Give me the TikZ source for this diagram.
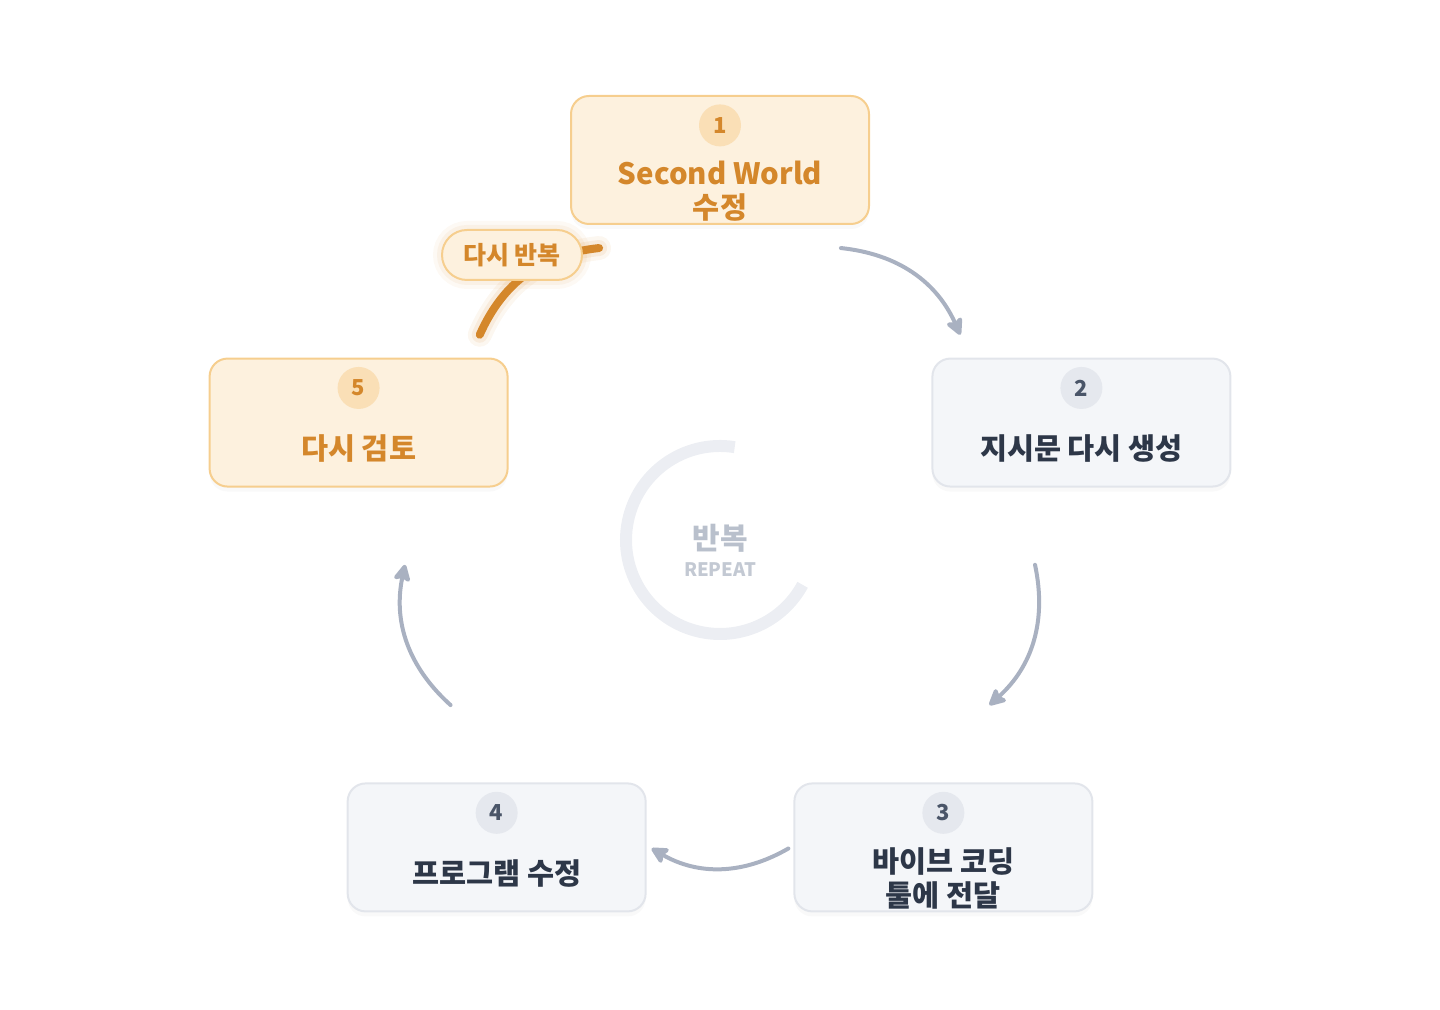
\documentclass[tikz,border=0pt]{standalone}
\usepackage{fontspec}
\setmainfont{Noto Sans CJK KR}
\usetikzlibrary{positioning, arrows.meta, calc, shadows}
\definecolor{rporange}{HTML}{D4872B}
\definecolor{rpfill}{HTML}{FDF1DE}
\definecolor{rpline}{HTML}{F6CE8E}
\definecolor{rpbadge}{HTML}{FADFB6}
\definecolor{rpgfill}{HTML}{F4F6F9}
\definecolor{rpgline}{HTML}{E2E5EB}
\definecolor{rpgbadge}{HTML}{E5E8EE}
\definecolor{rpgnum}{HTML}{4A5568}
\definecolor{rpdark}{HTML}{2D3748}
\definecolor{rparrow}{HTML}{A9B1C1}
\definecolor{rpring}{HTML}{ECEEF3}
\definecolor{rpmid}{HTML}{B9C0CC}
\definecolor{rpsub}{HTML}{C3C9D3}

\begin{document}
\begin{tikzpicture}[x=0.5pt, y=0.5pt, font=\bfseries,
    stepbox/.style={rounded corners=9pt, line width=1pt, minimum width=149pt, minimum height=64pt,
      drop shadow={shadow xshift=0pt, shadow yshift=-2.5pt, opacity=0.05}},
    hotbox/.style={stepbox, fill=rpfill, draw=rpline},
    coldbox/.style={stepbox, fill=rpgfill, draw=rpgline},
    badge/.style={circle, minimum size=21pt, inner sep=0pt, font=\bfseries\fontsize{11}{13}\selectfont},
    hotbadge/.style={badge, fill=rpbadge, text=rporange},
    coldbadge/.style={badge, fill=rpgbadge, text=rpgnum},
    steptext/.style={align=center, inner sep=0pt, font=\bfseries\fontsize{14.7}{17}\selectfont},
    hottext/.style={steptext, text=rporange},
    coldtext/.style={steptext, text=rpdark},
    flow/.style={draw=rparrow, line width=2pt, line cap=round, -{Stealth[length=10pt, width=10pt, inset=2pt, round]}},
  ]
  \useasboundingbox (0,0) rectangle (1440,1010);
  \coordinate (c) at (720,470);

  % center ring
  \draw[rpring, line width=6pt] ($(c)+(81:94)$) arc[start angle=81, end angle=331.5, radius=94];
  \node[text=rpmid, font=\bfseries\fontsize{15}{17}\selectfont] (mid) at ($(c)+(0,2)$) {반복};
  \node[text=rpsub, font=\bfseries\fontsize{9.3}{11}\selectfont] (sub) at ($(c)+(0,-30)$) {REPEAT};

  % steps
  \node[hotbox] (s1) at ($(c)+(90:380)$) {};
  \node[hotbadge, below=4.5pt of s1.north] (b1) {1};
  \node[hottext] (t1) at ($(b1)+(0,-66)$) {Second World\\수정};

  \node[coldbox] (s2) at ($(c)+(18:380)$) {};
  \node[coldbadge, below=4.5pt of s2.north] (b2) {2};
  \node[coldtext] (t2) at ($(b2)+(0,-61)$) {지시문 다시 생성};

  \node[coldbox] (s3) at ($(c)+(-54:380)$) {};
  \node[coldbadge, below=4.5pt of s3.north] (b3) {3};
  \node[coldtext] (t3) at ($(b3)+(0,-66)$) {바이브 코딩\\툴에 전달};

  \node[coldbox] (s4) at ($(c)+(-126:380)$) {};
  \node[coldbadge, below=4.5pt of s4.north] (b4) {4};
  \node[coldtext] (t4) at ($(b4)+(0,-61)$) {프로그램 수정};

  \node[hotbox] (s5) at ($(c)+(162:380)$) {};
  \node[hotbadge, below=4.5pt of s5.north] (b5) {5};
  \node[hottext] (t5) at ($(b5)+(0,-61)$) {다시 검토};

  % arrows on the loop
  \coordinate (p1) at ($(c)+(67.5:316)$);
  \coordinate (q1) at ($(c)+(40.5:316)$);
  \coordinate (p2) at ($(c)+(-4.5:316)$);
  \coordinate (q2) at ($(c)+(-31.5:316)$);
  \coordinate (p3) at ($(c)+(-77.5:316)$);
  \coordinate (q3) at ($(c)+(-102.5:316)$);
  \coordinate (p4) at ($(c)+(-148.5:316)$);
  \coordinate (q4) at ($(c)+(-175.5:316)$);
  \coordinate (p5) at ($(c)+(139.5:316)$);
  \coordinate (q5) at ($(c)+(112.5:316)$);
  \draw[flow] (p1) to[bend left=30] (q1);
  \draw[flow] (p2) to[bend left=30] (q2);
  \draw[flow] (p3) to[bend left=30] (q3);
  \draw[flow] (p4) to[bend left=30] (q4);

  % back to step 1
  \draw[rporange, opacity=0.07, line width=12pt, line cap=round] (p5) to[bend left=30] (q5);
  \draw[rporange, opacity=0.10, line width=8pt, line cap=round] (p5) to[bend left=30] (q5);
  \draw[rporange, line width=4pt, line cap=round] (p5) to[bend left=30] (q5);
  \node[draw=rpline, fill=rpfill, line width=1pt, rounded corners=12.5pt, minimum width=70pt, minimum height=25pt,
    text=rporange, font=\bfseries\fontsize{12.5}{14}\selectfont,
    preaction={draw=rporange, draw opacity=0.05, line width=9pt},
    preaction={draw=rporange, draw opacity=0.07, line width=5pt}] (again) at (512,755) {다시 반복};
\end{tikzpicture}
\end{document}
